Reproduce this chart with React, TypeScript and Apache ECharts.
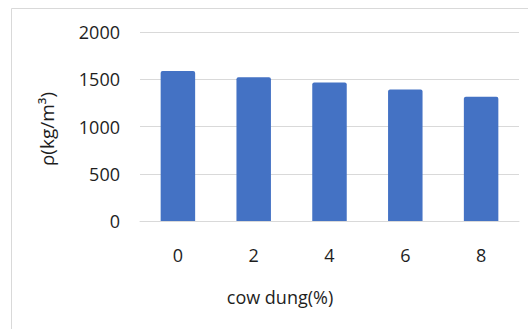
import React, { useEffect, useRef } from "react";
import * as echarts from "echarts";

const categories = ["0", "2", "4", "6", "8"];
const density = [1586, 1522, 1466, 1392, 1314];
const yTicks = { min: 0, max: 2000, interval: 500 };
const xTitle = "cow dung(%)";
const yTitle = "ρ(kg/m³)";

export default function App() {
  const ref = useRef<HTMLDivElement>(null);
  useEffect(() => {
    if (!ref.current) return;
    const chart = echarts.init(ref.current, null, { renderer: "svg" });
    const font = "'Open Sans', sans-serif";
    const textColor = "#1e1e1e";
    chart.setOption({
      animation: false,
      grid: { left: 140, right: 9, top: 32, bottom: 108 },
      xAxis: {
        type: "category",
        data: categories,
        axisLine: { show: true, lineStyle: { color: "#d9d9d9", width: 1 } },
        axisTick: { show: false },
        axisLabel: { color: textColor, fontSize: 18, fontFamily: font, margin: 25 },
      },
      yAxis: {
        type: "value",
        min: yTicks.min,
        max: yTicks.max,
        interval: yTicks.interval,
        axisLine: { show: false },
        axisTick: { show: false },
        splitLine: { lineStyle: { color: "#d9d9d9", width: 1 } },
        axisLabel: {
          color: textColor,
          fontSize: 18,
          fontFamily: font,
          margin: 20,
          formatter: (v: number) => String(v),
        },
      },
      series: [
        {
          type: "bar",
          data: density,
          barWidth: "45.5%",
          itemStyle: { color: "#4472c4", borderRadius: [2, 2, 0, 0] },
        },
      ],
      graphic: [
        {
          type: "rect",
          shape: { x: 11.5, y: 8.5, width: 700, height: 500 },
          style: { fill: "none", stroke: "#d9d9d9", lineWidth: 1 },
          silent: true,
        },
        {
          type: "text",
          x: 280,
          y: 297,
          style: {
            text: xTitle,
            fill: textColor,
            fontSize: 18,
            fontFamily: font,
            textAlign: "center",
            textVerticalAlign: "middle",
          },
        },
        {
          type: "text",
          x: 47,
          y: 129,
          rotation: Math.PI / 2,
          style: {
            text: yTitle,
            fill: textColor,
            fontSize: 19,
            fontFamily: font,
            textAlign: "center",
            textVerticalAlign: "middle",
          },
        },
      ],
    });
    return () => chart.dispose();
  }, []);
  return (
    <div
      ref={ref}
      style={{ position: "fixed", left: 0, top: 0, width: 528, height: 329, background: "#fff" }}
    />
  );
}
